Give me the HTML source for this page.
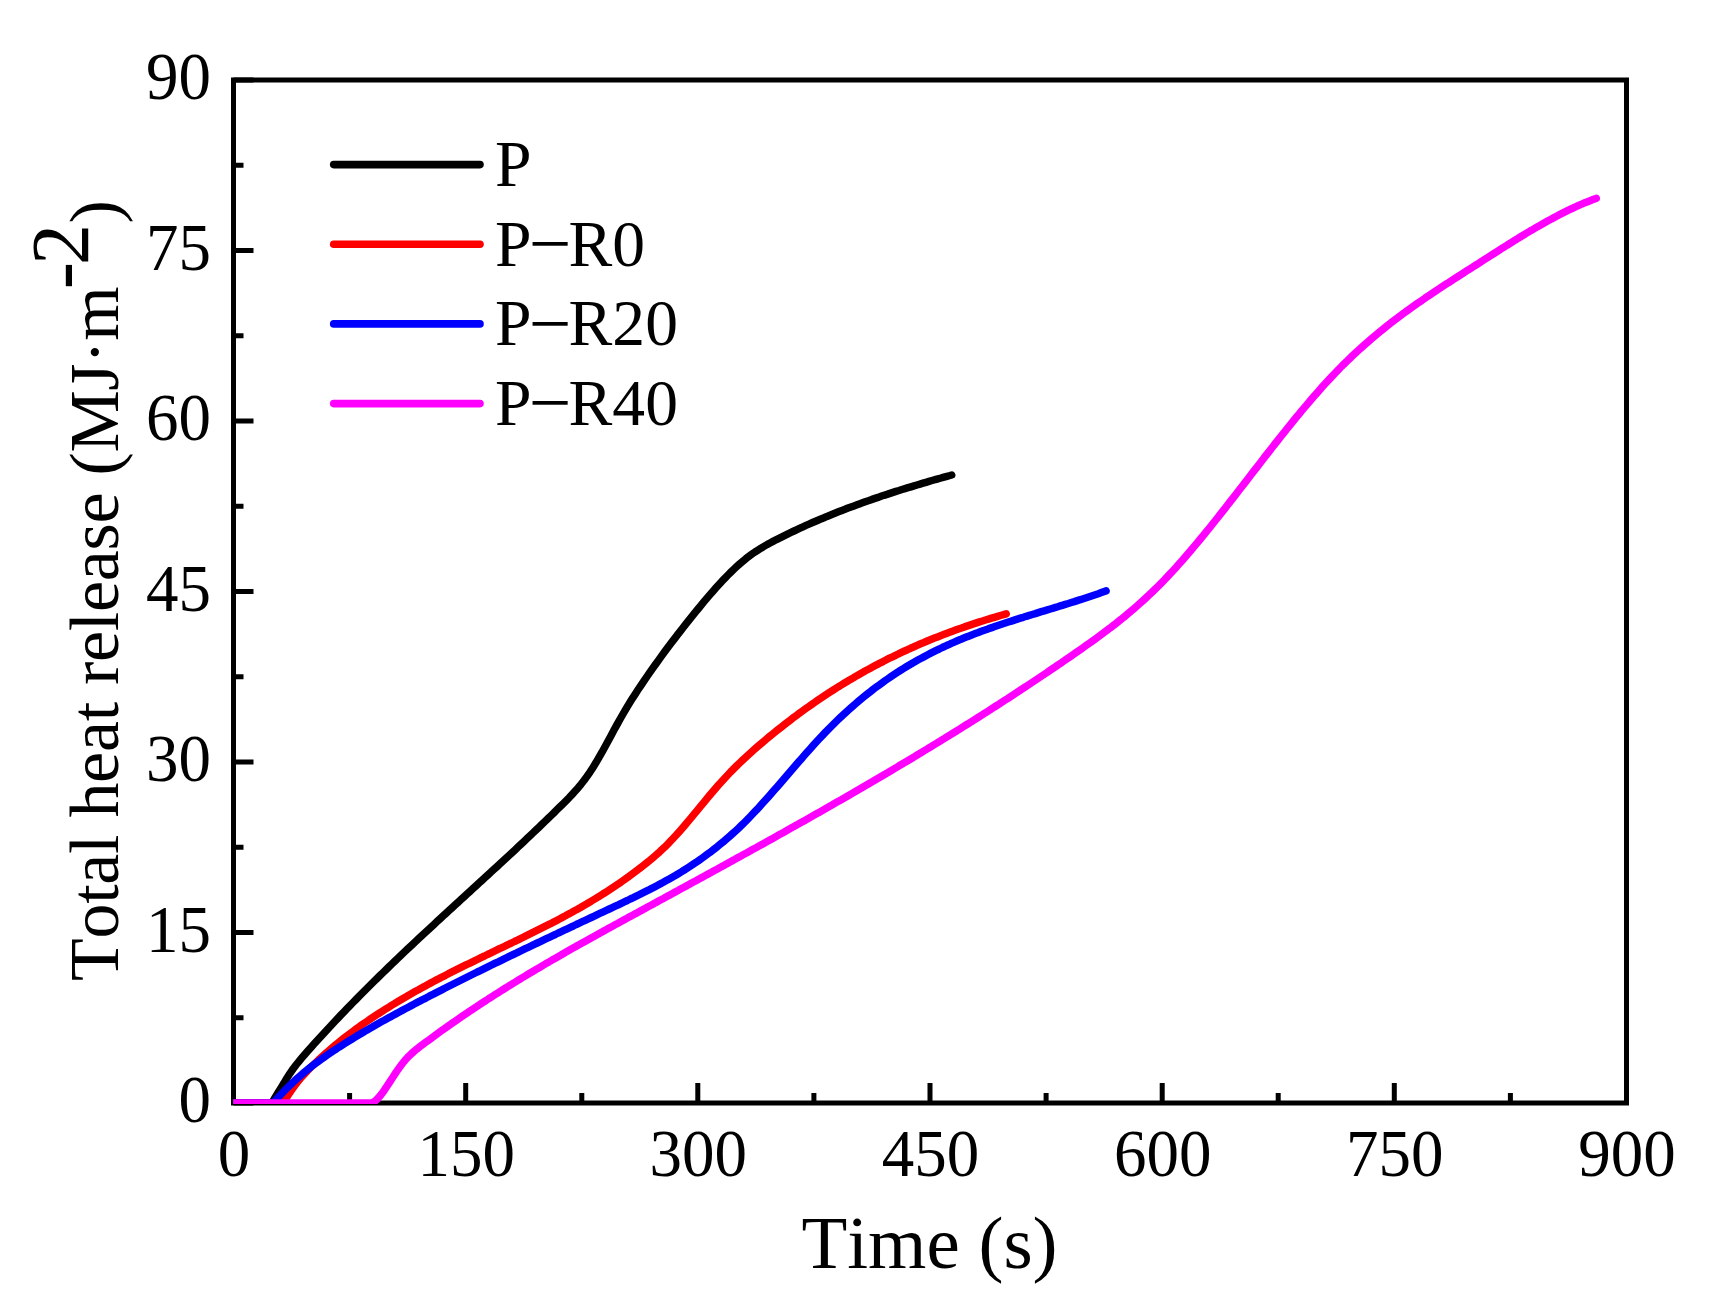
<!DOCTYPE html>
<html lang="en"><head><meta charset="utf-8"><title>Total heat release</title>
<style>html,body{margin:0;padding:0;background:#fff;}body{width:1724px;height:1316px;overflow:hidden;}svg{display:block;}text{font-kerning:none;font-family:"Liberation Serif","Times New Roman",serif;fill:#000;}</style></head><body>
<svg width="1724" height="1316" viewBox="0 0 1724 1316">
<rect width="1724" height="1316" fill="#fff"/>
<g stroke="#000" stroke-width="5" fill="none" stroke-linecap="butt">
<rect x="233.5" y="80.0" width="1393.0" height="1023.0"/>
<path d="M233.5 1103.0 V1083.0 M349.6 1103.0 V1093.0 M465.7 1103.0 V1083.0 M581.8 1103.0 V1093.0 M697.8 1103.0 V1083.0 M813.9 1103.0 V1093.0 M930.0 1103.0 V1083.0 M1046.1 1103.0 V1093.0 M1162.2 1103.0 V1083.0 M1278.2 1103.0 V1093.0 M1394.3 1103.0 V1083.0 M1510.4 1103.0 V1093.0 M1626.5 1103.0 V1083.0 M233.5 1103.0 H253.5 M233.5 1017.8 H243.5 M233.5 932.5 H253.5 M233.5 847.2 H243.5 M233.5 762.0 H253.5 M233.5 676.8 H243.5 M233.5 591.5 H253.5 M233.5 506.2 H243.5 M233.5 421.0 H253.5 M233.5 335.8 H243.5 M233.5 250.5 H253.5 M233.5 165.2 H243.5 M233.5 80.0 H253.5"/>
</g>
<clipPath id="plotclip"><rect x="233.2" y="79.0" width="1394.3" height="1024.9"/></clipPath>
<g clip-path="url(#plotclip)" fill="none" stroke-width="7.5" stroke-linecap="round" stroke-linejoin="round">
<path stroke="#000000" d="M233.5 1103.0 H272.0 L275.0 1097.6 278.0 1092.7 281.0 1087.9 284.0 1083.1 287.0 1078.0 290.0 1073.3 293.0 1069.0 296.0 1065.0 299.0 1061.3 302.0 1057.7 305.0 1054.2 308.0 1050.8 311.0 1047.4 314.0 1044.1 317.0 1040.8 320.0 1037.5 323.0 1034.2 326.0 1030.9 329.0 1027.7 332.0 1024.5 335.0 1021.3 338.0 1018.1 341.0 1014.9 344.0 1011.8 347.0 1008.7 350.0 1005.6 353.0 1002.5 356.0 999.5 359.0 996.4 362.0 993.4 365.0 990.4 368.0 987.4 371.0 984.4 374.0 981.4 377.0 978.5 380.0 975.5 383.0 972.6 386.0 969.7 389.0 966.8 392.0 963.9 395.0 961.0 398.0 958.1 401.0 955.3 404.0 952.4 407.0 949.6 410.0 946.8 413.0 944.0 416.0 941.1 419.0 938.3 422.0 935.5 425.0 932.8 428.0 930.0 431.0 927.2 434.0 924.4 437.0 921.6 440.0 918.9 443.0 916.1 446.0 913.4 449.0 910.6 452.0 907.9 455.0 905.1 458.0 902.4 461.0 899.6 464.0 896.9 467.0 894.1 470.0 891.4 473.0 888.6 476.0 885.9 479.0 883.1 482.0 880.4 485.0 877.6 488.0 874.9 491.0 872.1 494.0 869.3 497.0 866.6 500.0 863.8 503.0 861.0 506.0 858.2 509.0 855.5 512.0 852.7 515.0 849.9 518.0 847.1 521.0 844.2 524.0 841.4 527.0 838.6 530.0 835.8 533.0 832.9 536.0 830.0 539.0 827.2 542.0 824.3 545.0 821.4 548.0 818.5 551.0 815.6 554.0 812.7 557.0 809.7 560.0 806.8 563.0 803.8 566.0 800.8 569.0 797.8 572.0 794.6 575.0 791.3 578.0 787.9 581.0 784.3 584.0 780.5 587.0 776.4 590.0 772.1 593.0 767.4 596.0 762.6 599.0 757.4 602.0 752.2 605.0 746.7 608.0 741.2 611.0 735.7 614.0 730.1 617.0 724.6 620.0 719.2 623.0 714.0 626.0 708.9 629.0 703.9 632.0 699.1 635.0 694.4 638.0 689.8 641.0 685.3 644.0 680.9 647.0 676.5 650.0 672.2 653.0 667.9 656.0 663.7 659.0 659.6 662.0 655.4 665.0 651.3 668.0 647.3 671.0 643.3 674.0 639.4 677.0 635.4 680.0 631.6 683.0 627.7 686.0 623.9 689.0 620.1 692.0 616.4 695.0 612.6 698.0 609.0 701.0 605.3 704.0 601.7 707.0 598.1 710.0 594.6 713.0 591.2 716.0 587.8 719.0 584.5 722.0 581.2 725.0 578.1 728.0 575.0 731.0 572.0 734.0 569.1 737.0 566.3 740.0 563.6 743.0 561.1 746.0 558.6 749.0 556.3 752.0 554.1 755.0 552.0 758.0 550.1 761.0 548.2 764.0 546.4 767.0 544.6 770.0 543.0 773.0 541.4 776.0 539.8 779.0 538.3 782.0 536.8 785.0 535.3 788.0 533.8 791.0 532.4 794.0 531.0 797.0 529.6 800.0 528.2 803.0 526.8 806.0 525.4 809.0 524.1 812.0 522.8 815.0 521.5 818.0 520.2 821.0 518.9 824.0 517.7 827.0 516.4 830.0 515.2 833.0 514.0 836.0 512.8 839.0 511.6 842.0 510.4 845.0 509.3 848.0 508.1 851.0 507.0 854.0 505.9 857.0 504.8 860.0 503.7 863.0 502.6 866.0 501.5 869.0 500.5 872.0 499.4 875.0 498.4 878.0 497.4 881.0 496.3 884.0 495.3 887.0 494.4 890.0 493.4 893.0 492.4 896.0 491.4 899.0 490.5 902.0 489.5 905.0 488.6 908.0 487.7 911.0 486.8 914.0 485.9 917.0 485.0 920.0 484.1 923.0 483.2 926.0 482.3 929.0 481.4 932.0 480.5 935.0 479.7 938.0 478.8 941.0 478.0 944.0 477.1 947.0 476.3 950.0 475.5 951.7 475.0"/>
<path stroke="#ff0000" d="M233.5 1103.0 H283.5 L286.5 1097.8 289.5 1093.1 292.5 1088.7 295.5 1084.6 298.5 1080.8 301.5 1077.2 304.5 1073.9 307.5 1070.7 310.5 1067.7 313.5 1064.7 316.5 1061.9 319.5 1059.0 322.5 1056.3 325.5 1053.6 328.5 1051.0 331.5 1048.4 334.5 1045.8 337.5 1043.4 340.5 1040.9 343.5 1038.5 346.5 1036.2 349.5 1033.9 352.5 1031.7 355.5 1029.4 358.5 1027.3 361.5 1025.1 364.5 1023.0 367.5 1021.0 370.5 1018.9 373.5 1016.9 376.5 1014.9 379.5 1013.0 382.5 1011.1 385.5 1009.2 388.5 1007.3 391.5 1005.4 394.5 1003.6 397.5 1001.8 400.5 1000.0 403.5 998.2 406.5 996.5 409.5 994.7 412.5 993.0 415.5 991.3 418.5 989.7 421.5 988.0 424.5 986.4 427.5 984.7 430.5 983.1 433.5 981.5 436.5 979.9 439.5 978.4 442.5 976.8 445.5 975.3 448.5 973.7 451.5 972.2 454.5 970.7 457.5 969.2 460.5 967.7 463.5 966.2 466.5 964.7 469.5 963.3 472.5 961.8 475.5 960.3 478.5 958.9 481.5 957.4 484.5 956.0 487.5 954.5 490.5 953.1 493.5 951.6 496.5 950.2 499.5 948.7 502.5 947.3 505.5 945.9 508.5 944.4 511.5 943.0 514.5 941.5 517.5 940.1 520.5 938.6 523.5 937.2 526.5 935.7 529.5 934.2 532.5 932.7 535.5 931.2 538.5 929.7 541.5 928.2 544.5 926.7 547.5 925.2 550.5 923.7 553.5 922.1 556.5 920.6 559.5 919.0 562.5 917.4 565.5 915.8 568.5 914.1 571.5 912.5 574.5 910.8 577.5 909.2 580.5 907.5 583.5 905.7 586.5 904.0 589.5 902.2 592.5 900.4 595.5 898.6 598.5 896.8 601.5 894.9 604.5 893.0 607.5 891.1 610.5 889.1 613.5 887.1 616.5 885.1 619.5 883.1 622.5 881.0 625.5 878.9 628.5 876.7 631.5 874.5 634.5 872.3 637.5 870.1 640.5 867.8 643.5 865.4 646.5 863.0 649.5 860.6 652.5 858.1 655.5 855.5 658.5 852.9 661.5 850.1 664.5 847.3 667.5 844.3 670.5 841.2 673.5 838.0 676.5 834.8 679.5 831.4 682.5 828.0 685.5 824.5 688.5 820.9 691.5 817.3 694.5 813.7 697.5 810.1 700.5 806.4 703.5 802.8 706.5 799.1 709.5 795.5 712.5 792.0 715.5 788.5 718.5 785.0 721.5 781.7 724.5 778.4 727.5 775.2 730.5 772.0 733.5 769.0 736.5 766.0 739.5 763.1 742.5 760.2 745.5 757.4 748.5 754.7 751.5 752.0 754.5 749.3 757.5 746.7 760.5 744.1 763.5 741.6 766.5 739.0 769.5 736.5 772.5 734.1 775.5 731.6 778.5 729.2 781.5 726.9 784.5 724.5 787.5 722.2 790.5 719.9 793.5 717.6 796.5 715.4 799.5 713.1 802.5 711.0 805.5 708.8 808.5 706.7 811.5 704.6 814.5 702.5 817.5 700.4 820.5 698.4 823.5 696.4 826.5 694.4 829.5 692.4 832.5 690.5 835.5 688.6 838.5 686.7 841.5 684.9 844.5 683.0 847.5 681.2 850.5 679.4 853.5 677.7 856.5 675.9 859.5 674.2 862.5 672.5 865.5 670.8 868.5 669.2 871.5 667.6 874.5 665.9 877.5 664.4 880.5 662.8 883.5 661.3 886.5 659.7 889.5 658.2 892.5 656.8 895.5 655.3 898.5 653.9 901.5 652.4 904.5 651.0 907.5 649.7 910.5 648.3 913.5 647.0 916.5 645.6 919.5 644.3 922.5 643.1 925.5 641.8 928.5 640.5 931.5 639.3 934.5 638.1 937.5 636.9 940.5 635.7 943.5 634.6 946.5 633.4 949.5 632.3 952.5 631.2 955.5 630.1 958.5 629.0 961.5 628.0 964.5 626.9 967.5 625.9 970.5 624.9 973.5 623.9 976.5 622.9 979.5 621.9 982.5 621.0 985.5 620.0 988.5 619.1 991.5 618.2 994.5 617.3 997.5 616.4 1000.5 615.5 1003.5 614.7 1006.2 613.9"/>
<path stroke="#0000ff" d="M233.5 1103.0 H273.3 L276.3 1099.6 279.3 1096.2 282.3 1093.0 285.3 1089.9 288.3 1086.9 291.3 1084.0 294.3 1081.1 297.3 1078.4 300.3 1075.8 303.3 1073.2 306.3 1070.7 309.3 1068.3 312.3 1065.9 315.3 1063.6 318.3 1061.4 321.3 1059.2 324.3 1057.1 327.3 1055.0 330.3 1052.9 333.3 1050.9 336.3 1049.0 339.3 1047.0 342.3 1045.1 345.3 1043.2 348.3 1041.3 351.3 1039.5 354.3 1037.6 357.3 1035.8 360.3 1034.0 363.3 1032.2 366.3 1030.4 369.3 1028.7 372.3 1027.0 375.3 1025.2 378.3 1023.5 381.3 1021.8 384.3 1020.2 387.3 1018.5 390.3 1016.9 393.3 1015.2 396.3 1013.6 399.3 1012.0 402.3 1010.4 405.3 1008.8 408.3 1007.2 411.3 1005.6 414.3 1004.0 417.3 1002.4 420.3 1000.9 423.3 999.3 426.3 997.8 429.3 996.2 432.3 994.7 435.3 993.1 438.3 991.6 441.3 990.1 444.3 988.5 447.3 987.0 450.3 985.5 453.3 984.0 456.3 982.5 459.3 981.0 462.3 979.5 465.3 978.0 468.3 976.5 471.3 975.0 474.3 973.5 477.3 972.0 480.3 970.6 483.3 969.1 486.3 967.6 489.3 966.1 492.3 964.7 495.3 963.2 498.3 961.8 501.3 960.3 504.3 958.8 507.3 957.4 510.3 955.9 513.3 954.5 516.3 953.1 519.3 951.6 522.3 950.2 525.3 948.7 528.3 947.3 531.3 945.9 534.3 944.4 537.3 943.0 540.3 941.6 543.3 940.1 546.3 938.7 549.3 937.3 552.3 935.9 555.3 934.5 558.3 933.0 561.3 931.6 564.3 930.2 567.3 928.8 570.3 927.4 573.3 926.0 576.3 924.5 579.3 923.1 582.3 921.7 585.3 920.3 588.3 918.9 591.3 917.5 594.3 916.1 597.3 914.6 600.3 913.2 603.3 911.8 606.3 910.4 609.3 909.0 612.3 907.6 615.3 906.2 618.3 904.8 621.3 903.3 624.3 901.9 627.3 900.5 630.3 899.0 633.3 897.6 636.3 896.1 639.3 894.7 642.3 893.2 645.3 891.7 648.3 890.2 651.3 888.6 654.3 887.1 657.3 885.5 660.3 883.9 663.3 882.3 666.3 880.6 669.3 878.9 672.3 877.2 675.3 875.5 678.3 873.7 681.3 871.9 684.3 870.0 687.3 868.1 690.3 866.2 693.3 864.2 696.3 862.2 699.3 860.1 702.3 858.0 705.3 855.8 708.3 853.6 711.3 851.4 714.3 849.0 717.3 846.7 720.3 844.2 723.3 841.8 726.3 839.2 729.3 836.6 732.3 833.9 735.3 831.2 738.3 828.4 741.3 825.5 744.3 822.6 747.3 819.6 750.3 816.5 753.3 813.3 756.3 810.2 759.3 806.9 762.3 803.6 765.3 800.3 768.3 796.9 771.3 793.5 774.3 790.1 777.3 786.7 780.3 783.2 783.3 779.7 786.3 776.2 789.3 772.7 792.3 769.3 795.3 765.8 798.3 762.3 801.3 758.9 804.3 755.4 807.3 752.0 810.3 748.7 813.3 745.3 816.3 742.0 819.3 738.8 822.3 735.6 825.3 732.4 828.3 729.3 831.3 726.3 834.3 723.3 837.3 720.4 840.3 717.5 843.3 714.7 846.3 711.9 849.3 709.2 852.3 706.6 855.3 704.0 858.3 701.4 861.3 698.9 864.3 696.4 867.3 694.0 870.3 691.7 873.3 689.3 876.3 687.1 879.3 684.9 882.3 682.7 885.3 680.5 888.3 678.5 891.3 676.4 894.3 674.4 897.3 672.4 900.3 670.5 903.3 668.6 906.3 666.8 909.3 665.0 912.3 663.2 915.3 661.5 918.3 659.8 921.3 658.2 924.3 656.6 927.3 655.0 930.3 653.4 933.3 651.9 936.3 650.4 939.3 649.0 942.3 647.5 945.3 646.1 948.3 644.8 951.3 643.4 954.3 642.1 957.3 640.8 960.3 639.6 963.3 638.3 966.3 637.1 969.3 635.9 972.3 634.7 975.3 633.6 978.3 632.5 981.3 631.3 984.3 630.2 987.3 629.2 990.3 628.1 993.3 627.1 996.3 626.0 999.3 625.0 1002.3 624.0 1005.3 623.0 1008.3 622.0 1011.3 621.1 1014.3 620.1 1017.3 619.1 1020.3 618.2 1023.3 617.3 1026.3 616.3 1029.3 615.4 1032.3 614.5 1035.3 613.6 1038.3 612.6 1041.3 611.7 1044.3 610.8 1047.3 609.9 1050.3 609.0 1053.3 608.1 1056.3 607.2 1059.3 606.2 1062.3 605.3 1065.3 604.4 1068.3 603.5 1071.3 602.5 1074.3 601.6 1077.3 600.6 1080.3 599.7 1083.3 598.7 1086.3 597.7 1089.3 596.7 1092.3 595.7 1095.3 594.7 1098.3 593.7 1101.3 592.6 1104.3 591.5 1106.1 590.9"/>
<path stroke="#ff00ff" d="M233.5 1103.0 H372.0 L375.0 1101.1 378.0 1098.2 381.0 1094.7 384.0 1090.7 387.0 1086.2 390.0 1081.6 393.0 1077.0 396.0 1072.4 399.0 1068.1 402.0 1064.0 405.0 1060.3 408.0 1057.0 411.0 1054.1 414.0 1051.4 417.0 1048.9 420.0 1046.6 423.0 1044.3 426.0 1042.1 429.0 1039.9 432.0 1037.7 435.0 1035.5 438.0 1033.3 441.0 1031.1 444.0 1029.0 447.0 1026.9 450.0 1024.7 453.0 1022.6 456.0 1020.6 459.0 1018.5 462.0 1016.4 465.0 1014.4 468.0 1012.4 471.0 1010.3 474.0 1008.3 477.0 1006.4 480.0 1004.4 483.0 1002.4 486.0 1000.5 489.0 998.5 492.0 996.6 495.0 994.7 498.0 992.8 501.0 990.9 504.0 989.0 507.0 987.1 510.0 985.3 513.0 983.4 516.0 981.6 519.0 979.7 522.0 977.9 525.0 976.1 528.0 974.3 531.0 972.5 534.0 970.7 537.0 968.9 540.0 967.2 543.0 965.4 546.0 963.6 549.0 961.9 552.0 960.1 555.0 958.4 558.0 956.7 561.0 955.0 564.0 953.2 567.0 951.5 570.0 949.8 573.0 948.1 576.0 946.4 579.0 944.8 582.0 943.1 585.0 941.4 588.0 939.7 591.0 938.1 594.0 936.4 597.0 934.7 600.0 933.1 603.0 931.4 606.0 929.8 609.0 928.1 612.0 926.5 615.0 924.8 618.0 923.2 621.0 921.5 624.0 919.9 627.0 918.3 630.0 916.6 633.0 915.0 636.0 913.4 639.0 911.7 642.0 910.1 645.0 908.5 648.0 906.8 651.0 905.2 654.0 903.6 657.0 901.9 660.0 900.3 663.0 898.7 666.0 897.0 669.0 895.4 672.0 893.7 675.0 892.1 678.0 890.5 681.0 888.8 684.0 887.2 687.0 885.6 690.0 883.9 693.0 882.3 696.0 880.7 699.0 879.0 702.0 877.4 705.0 875.7 708.0 874.1 711.0 872.5 714.0 870.8 717.0 869.2 720.0 867.5 723.0 865.9 726.0 864.2 729.0 862.6 732.0 860.9 735.0 859.3 738.0 857.6 741.0 856.0 744.0 854.3 747.0 852.7 750.0 851.0 753.0 849.3 756.0 847.7 759.0 846.0 762.0 844.4 765.0 842.7 768.0 841.0 771.0 839.4 774.0 837.7 777.0 836.0 780.0 834.3 783.0 832.7 786.0 831.0 789.0 829.3 792.0 827.6 795.0 825.9 798.0 824.3 801.0 822.6 804.0 820.9 807.0 819.2 810.0 817.5 813.0 815.8 816.0 814.1 819.0 812.4 822.0 810.7 825.0 809.0 828.0 807.3 831.0 805.6 834.0 803.8 837.0 802.1 840.0 800.4 843.0 798.7 846.0 797.0 849.0 795.2 852.0 793.5 855.0 791.8 858.0 790.0 861.0 788.3 864.0 786.5 867.0 784.8 870.0 783.0 873.0 781.3 876.0 779.5 879.0 777.8 882.0 776.0 885.0 774.2 888.0 772.5 891.0 770.7 894.0 768.9 897.0 767.1 900.0 765.3 903.0 763.5 906.0 761.8 909.0 760.0 912.0 758.2 915.0 756.4 918.0 754.5 921.0 752.7 924.0 750.9 927.0 749.1 930.0 747.3 933.0 745.4 936.0 743.6 939.0 741.8 942.0 739.9 945.0 738.1 948.0 736.2 951.0 734.4 954.0 732.5 957.0 730.7 960.0 728.8 963.0 726.9 966.0 725.0 969.0 723.2 972.0 721.3 975.0 719.4 978.0 717.5 981.0 715.6 984.0 713.7 987.0 711.8 990.0 709.9 993.0 707.9 996.0 706.0 999.0 704.1 1002.0 702.1 1005.0 700.2 1008.0 698.3 1011.0 696.3 1014.0 694.3 1017.0 692.4 1020.0 690.4 1023.0 688.4 1026.0 686.5 1029.0 684.5 1032.0 682.5 1035.0 680.5 1038.0 678.5 1041.0 676.5 1044.0 674.5 1047.0 672.5 1050.0 670.4 1053.0 668.4 1056.0 666.4 1059.0 664.3 1062.0 662.3 1065.0 660.2 1068.0 658.2 1071.0 656.1 1074.0 654.0 1077.0 651.9 1080.0 649.9 1083.0 647.8 1086.0 645.6 1089.0 643.5 1092.0 641.4 1095.0 639.2 1098.0 637.0 1101.0 634.8 1104.0 632.6 1107.0 630.3 1110.0 628.1 1113.0 625.7 1116.0 623.4 1119.0 621.0 1122.0 618.6 1125.0 616.2 1128.0 613.7 1131.0 611.2 1134.0 608.6 1137.0 606.0 1140.0 603.3 1143.0 600.6 1146.0 597.9 1149.0 595.1 1152.0 592.2 1155.0 589.3 1158.0 586.4 1161.0 583.3 1164.0 580.3 1167.0 577.1 1170.0 573.9 1173.0 570.7 1176.0 567.4 1179.0 564.1 1182.0 560.7 1185.0 557.2 1188.0 553.8 1191.0 550.3 1194.0 546.7 1197.0 543.1 1200.0 539.5 1203.0 535.9 1206.0 532.2 1209.0 528.5 1212.0 524.7 1215.0 521.0 1218.0 517.2 1221.0 513.4 1224.0 509.6 1227.0 505.8 1230.0 501.9 1233.0 498.1 1236.0 494.2 1239.0 490.3 1242.0 486.5 1245.0 482.6 1248.0 478.7 1251.0 474.8 1254.0 470.9 1257.0 467.1 1260.0 463.2 1263.0 459.3 1266.0 455.4 1269.0 451.6 1272.0 447.8 1275.0 443.9 1278.0 440.1 1281.0 436.3 1284.0 432.6 1287.0 428.8 1290.0 425.1 1293.0 421.4 1296.0 417.7 1299.0 414.1 1302.0 410.4 1305.0 406.9 1308.0 403.3 1311.0 399.8 1314.0 396.3 1317.0 392.9 1320.0 389.5 1323.0 386.1 1326.0 382.8 1329.0 379.6 1332.0 376.4 1335.0 373.2 1338.0 370.1 1341.0 367.0 1344.0 364.0 1347.0 361.1 1350.0 358.2 1353.0 355.3 1356.0 352.5 1359.0 349.8 1362.0 347.1 1365.0 344.4 1368.0 341.8 1371.0 339.2 1374.0 336.6 1377.0 334.1 1380.0 331.6 1383.0 329.2 1386.0 326.8 1389.0 324.4 1392.0 322.1 1395.0 319.8 1398.0 317.5 1401.0 315.3 1404.0 313.0 1407.0 310.9 1410.0 308.7 1413.0 306.5 1416.0 304.4 1419.0 302.3 1422.0 300.3 1425.0 298.2 1428.0 296.2 1431.0 294.1 1434.0 292.1 1437.0 290.1 1440.0 288.2 1443.0 286.2 1446.0 284.2 1449.0 282.3 1452.0 280.3 1455.0 278.4 1458.0 276.5 1461.0 274.6 1464.0 272.6 1467.0 270.7 1470.0 268.8 1473.0 266.9 1476.0 265.0 1479.0 263.1 1482.0 261.1 1485.0 259.2 1488.0 257.3 1491.0 255.4 1494.0 253.5 1497.0 251.6 1500.0 249.6 1503.0 247.7 1506.0 245.9 1509.0 244.0 1512.0 242.1 1515.0 240.2 1518.0 238.4 1521.0 236.5 1524.0 234.7 1527.0 232.9 1530.0 231.1 1533.0 229.4 1536.0 227.6 1539.0 225.9 1542.0 224.2 1545.0 222.5 1548.0 220.8 1551.0 219.2 1554.0 217.6 1557.0 216.0 1560.0 214.4 1563.0 212.9 1566.0 211.4 1569.0 209.9 1572.0 208.5 1575.0 207.1 1578.0 205.7 1581.0 204.4 1584.0 203.1 1587.0 201.9 1590.0 200.7 1593.0 199.5 1596.0 198.4 1596.2 198.3"/>
</g>
<g font-size="66" text-anchor="middle">
<text transform="translate(234.0 1175.7) scale(0.985 1.035)">0</text>
<text transform="translate(466.2 1175.7) scale(0.985 1.035)">150</text>
<text transform="translate(698.3 1175.7) scale(0.985 1.035)">300</text>
<text transform="translate(930.5 1175.7) scale(0.985 1.035)">450</text>
<text transform="translate(1162.7 1175.7) scale(0.985 1.035)">600</text>
<text transform="translate(1394.8 1175.7) scale(0.985 1.035)">750</text>
<text transform="translate(1627.0 1175.7) scale(0.985 1.035)">900</text>
</g>
<g font-size="66" text-anchor="end">
<text transform="translate(211.0 1122.0) scale(0.985 1.035)">0</text>
<text transform="translate(211.0 951.5) scale(0.985 1.035)">15</text>
<text transform="translate(211.0 781.0) scale(0.985 1.035)">30</text>
<text transform="translate(211.0 610.5) scale(0.985 1.035)">45</text>
<text transform="translate(211.0 440.0) scale(0.985 1.035)">60</text>
<text transform="translate(211.0 269.5) scale(0.985 1.035)">75</text>
<text transform="translate(211.0 99.0) scale(0.985 1.035)">90</text>
</g>
<text x="929.5" y="1267.5" font-size="75" text-anchor="middle">Time (s)</text>
<text transform="translate(118.3 981.0) rotate(-90)" font-size="70" text-anchor="start" letter-spacing="-0.3">Total heat release (MJ·m<tspan font-size="82" dy="-30" dx="-2.7">-</tspan><tspan font-size="82" dx="-2.8">2</tspan><tspan dy="30" dx="0.8">)</tspan></text>
<g stroke-width="7.6" stroke-linecap="round" fill="none">
<path stroke="#000000" d="M333.7 164.6 H480.0"/>
<path stroke="#ff0000" d="M333.7 244.2 H480.0"/>
<path stroke="#0000ff" d="M333.7 323.9 H480.0"/>
<path stroke="#ff00ff" d="M333.7 403.6 H480.0"/>
</g>
<g font-size="65.6" text-anchor="start">
<text x="495.1" y="186.1">P</text>
<text x="495.1" y="265.8">P<tspan font-size="75.44" dx="-2.77" dy="3.2">−</tspan><tspan dx="-2.77" dy="-3.2">R0</tspan></text>
<text x="495.1" y="345.4">P<tspan font-size="75.44" dx="-2.77" dy="3.2">−</tspan><tspan dx="-2.77" dy="-3.2">R20</tspan></text>
<text x="495.1" y="425.1">P<tspan font-size="75.44" dx="-2.77" dy="3.2">−</tspan><tspan dx="-2.77" dy="-3.2">R40</tspan></text>
</g>
</svg></body></html>
